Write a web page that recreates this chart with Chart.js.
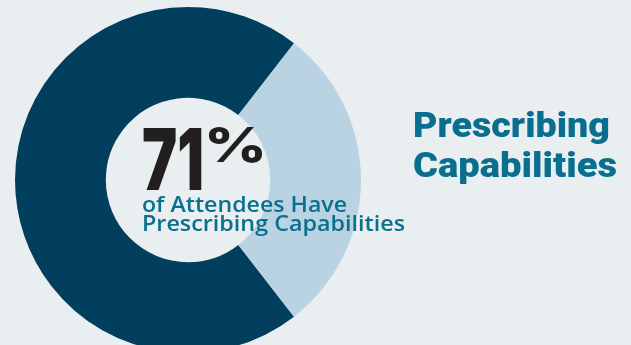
<!DOCTYPE html>
<html>
<head>
<meta charset="utf-8">
<script src="https://cdn.jsdelivr.net/npm/chart.js@4"></script>
<style>
  html, body { margin: 0; padding: 0; background: #e9eef1; overflow: hidden; }
  #wrap { position: absolute; left: 0; top: 0; width: 631px; height: 360px; }
</style>
</head>
<body>
<div id="wrap"><canvas id="prescribingChart"></canvas></div>
<script>
const categories = ['Have Prescribing Capabilities', 'Do Not Have Prescribing Capabilities'];
const shares = [71, 29];
const sliceColors = ['#023f5e', '#b9d3e3'];

const subtitleLines = ['of Attendees Have', 'Prescribing Capabilities'];
const titleLines = ['Prescribing', 'Capabilities'];

// draw text so it fills a given width, font size set from cap height
function fitText(ctx, text, x, baseline, capHeight, width, weight, family, color) {
  const size = capHeight / 0.72;
  ctx.font = weight + ' ' + size + 'px ' + family;
  const w = ctx.measureText(text).width;
  ctx.save();
  ctx.translate(x, baseline);
  ctx.scale(width / w, 1);
  ctx.fillStyle = color;
  ctx.textBaseline = 'alphabetic';
  ctx.textAlign = 'left';
  ctx.fillText(text, 0, 0);
  ctx.restore();
}

const labelsPlugin = {
  id: 'infoText',
  afterDraw(chart) {
    const ctx = chart.ctx;
    // big percentage in the hole
    fitText(ctx, String(shares[0]), 142, 190, 61, 62, '900', 'Inter, sans-serif', '#221f1f');
    fitText(ctx, '%', 204, 162, 35, 63, '800', 'Inter, sans-serif', '#221f1f');
    // subtitle
    fitText(ctx, subtitleLines[0], 142, 212, 15, 205, '600', '"Open Sans", sans-serif', '#0a7090');
    fitText(ctx, subtitleLines[1], 142, 231, 15, 263, '600', '"Open Sans", sans-serif', '#0a7090');
    // title on the right
    fitText(ctx, titleLines[0], 413, 137, 25, 197, '900', 'Roboto, sans-serif', '#0a6e8e');
    fitText(ctx, titleLines[1], 413, 177, 25, 204, '900', 'Roboto, sans-serif', '#0a6e8e');
  }
};

const ctx = document.getElementById('prescribingChart').getContext('2d');

const prescribingChart = new Chart(ctx, {
  type: 'doughnut',
  data: {
    labels: categories,
    datasets: [{
      data: shares,
      backgroundColor: sliceColors,
      borderWidth: 0,
      hoverOffset: 0
    }]
  },
  options: {
    responsive: true,
    maintainAspectRatio: false,
    animation: false,
    cutout: '47.5%',
    rotation: 142.2,
    layout: {
      padding: { left: 15, right: 270, top: 7, bottom: 7 }
    },
    plugins: {
      legend: { display: false },
      tooltip: { enabled: false }
    }
  },
  plugins: [labelsPlugin]
});
</script>
</body>
</html>
